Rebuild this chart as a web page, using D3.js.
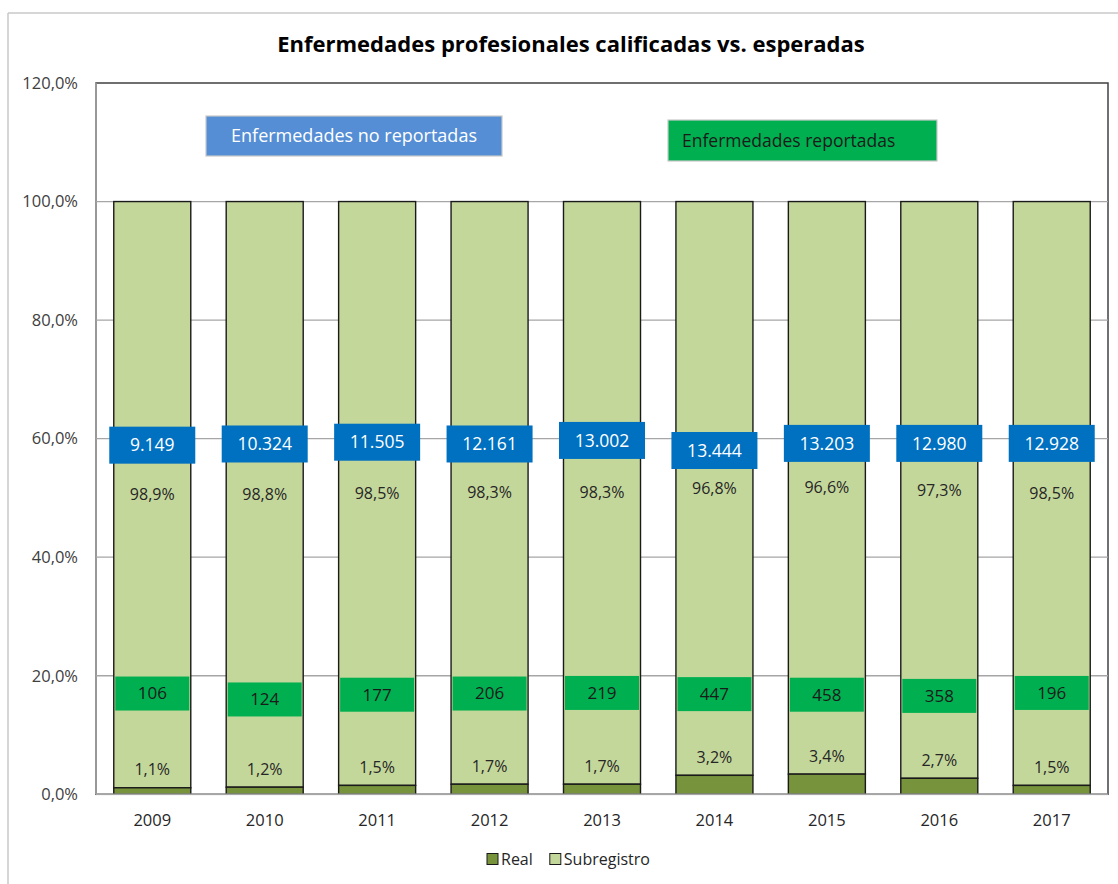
<!DOCTYPE html>
<html>
<head>
<meta charset="utf-8">
<script src="https://cdn.jsdelivr.net/npm/d3@7"></script>
<style>
  body { margin: 0; background: #fff; }
  text { font-family: "Open Sans", "Noto Sans", sans-serif; }
</style>
</head>
<body>
<div id="viz"></div>
<script>
// data
const years = ["2009", "2010", "2011", "2012", "2013", "2014", "2015", "2016", "2017"];
const realPct = [1.1, 1.2, 1.5, 1.7, 1.7, 3.2, 3.4, 2.7, 1.5];
const subPct = [98.9, 98.8, 98.5, 98.3, 98.3, 96.8, 96.6, 97.3, 98.5];
const reported = [106, 124, 177, 206, 219, 447, 458, 358, 196];
const notReported = [9149, 10324, 11505, 12161, 13002, 13444, 13203, 12980, 12928];
// where the hand-placed count boxes sit (in % of the y axis)
const blueLevel = [58.9, 59.1, 59.4, 59.1, 59.7, 58.0, 59.2, 59.2, 59.2];
const greenLevel = [17.0, 16.0, 16.8, 17.0, 17.1, 16.9, 16.8, 16.6, 17.1];
const yTicks = [0, 20, 40, 60, 80, 100, 120];

const W = 1118, H = 884;
const plotLeft = 96, plotRight = 1108, plotTop = 83, plotBottom = 794.3;
const labelSize = "16px";

const loc = d3.formatLocale({decimal: ",", thousands: ".", grouping: [3], currency: ["", ""]});
const fmtInt = loc.format(",d");
const fmtPct = d => loc.format(".1f")(d) + "%";

const svg = d3.select("#viz").append("svg")
    .attr("width", W)
    .attr("height", H);

// sheet frame
svg.append("line").attr("x1", 8).attr("x2", W).attr("y1", 13).attr("y2", 13)
    .attr("stroke", "#c8c8c8").attr("stroke-width", 1.5);
svg.append("line").attr("x1", 8).attr("x2", 8).attr("y1", 13).attr("y2", H)
    .attr("stroke", "#c8c8c8").attr("stroke-width", 1.5);

svg.append("text")
    .attr("x", 571)
    .attr("y", 52)
    .attr("text-anchor", "middle")
    .style("font-size", "22px")
    .style("font-weight", "bold")
    .attr("fill", "#000")
    .text("Enfermedades profesionales calificadas vs. esperadas");

const x = d3.scaleBand()
    .domain(years)
    .range([plotLeft, plotRight])
    .paddingInner(0.315)
    .paddingOuter(0.158);

const y = d3.scaleLinear()
    .domain([0, 120])
    .range([plotBottom, plotTop]);

// plot frame + gridlines
svg.append("rect")
    .attr("x", plotLeft).attr("y", y(120))
    .attr("width", plotRight - plotLeft).attr("height", plotBottom - y(120))
    .attr("fill", "none").attr("stroke", "#404040").attr("stroke-width", 1.5);

svg.append("g")
    .selectAll("line")
    .data(yTicks.filter(t => t > 0 && t < 120))
    .enter()
    .append("line")
    .attr("x1", plotLeft).attr("x2", plotRight)
    .attr("y1", d => y(d)).attr("y2", d => y(d))
    .attr("stroke", "#a6a6a6").attr("stroke-width", 1.3);

svg.append("line").attr("x1", plotLeft).attr("x2", plotLeft).attr("y1", y(120)).attr("y2", plotBottom)
    .attr("stroke", "#a6a6a6").attr("stroke-width", 1.5);

const yAxis = d3.axisLeft(y)
    .tickValues(yTicks)
    .tickSize(0)
    .tickPadding(18)
    .tickFormat(d => fmtPct(d));
svg.append("g")
    .attr("transform", `translate(${plotLeft}, 0)`)
    .call(yAxis)
    .call(g => g.select(".domain").remove())
    .selectAll("text")
    .style("font-family", "'Open Sans', sans-serif")
    .style("font-size", "16.5px")
    .attr("fill", "#404040");

// stacked bars
const bars = svg.append("g");
bars.selectAll("rect.sub")
    .data(years)
    .enter()
    .append("rect")
    .attr("class", "sub")
    .attr("x", d => x(d))
    .attr("y", (d, i) => y(realPct[i] + subPct[i]))
    .attr("width", x.bandwidth())
    .attr("height", (d, i) => y(realPct[i]) - y(realPct[i] + subPct[i]))
    .attr("fill", "#c4d79b")
    .attr("stroke", "#1a1a1a")
    .attr("stroke-width", 1.4);

bars.selectAll("rect.real")
    .data(years)
    .enter()
    .append("rect")
    .attr("class", "real")
    .attr("x", d => x(d))
    .attr("y", (d, i) => y(realPct[i]))
    .attr("width", x.bandwidth())
    .attr("height", (d, i) => y(0) - y(realPct[i]))
    .attr("fill", "#77933c")
    .attr("stroke", "#1a1a1a")
    .attr("stroke-width", 1.4);

// x axis
svg.append("line").attr("x1", plotLeft).attr("x2", plotRight).attr("y1", plotBottom).attr("y2", plotBottom)
    .attr("stroke", "#a6a6a6").attr("stroke-width", 1.5);

const xAxis = d3.axisBottom(x).tickSize(0).tickPadding(20);
svg.append("g")
    .attr("transform", `translate(0, ${plotBottom})`)
    .call(xAxis)
    .call(g => g.select(".domain").remove())
    .selectAll("text")
    .style("font-family", "'Open Sans', sans-serif")
    .style("font-size", "16.5px")
    .attr("fill", "#262626");

// percentage labels
svg.append("g").selectAll("text")
    .data(years)
    .enter()
    .append("text")
    .attr("x", d => x(d) + x.bandwidth() / 2)
    .attr("y", (d, i) => (y(realPct[i]) + y(realPct[i] + subPct[i])) / 2)
    .attr("dy", "0.35em")
    .attr("text-anchor", "middle")
    .style("font-size", labelSize)
    .attr("fill", "#262626")
    .text((d, i) => fmtPct(subPct[i]));

svg.append("g").selectAll("text")
    .data(years)
    .enter()
    .append("text")
    .attr("x", d => x(d) + x.bandwidth() / 2)
    .attr("y", (d, i) => y(realPct[i]) - 18)
    .attr("dy", "0.35em")
    .attr("text-anchor", "middle")
    .style("font-size", labelSize)
    .attr("fill", "#262626")
    .text((d, i) => fmtPct(realPct[i]));

// blue boxes: not reported
const blue = svg.append("g").selectAll("g")
    .data(years)
    .enter()
    .append("g")
    .attr("transform", (d, i) => `translate(${x(d) + x.bandwidth() / 2}, ${y(blueLevel[i])})`);
blue.append("rect")
    .attr("x", -43).attr("y", -18.5)
    .attr("width", 86).attr("height", 37)
    .attr("fill", "#0070c0");
blue.append("text")
    .attr("text-anchor", "middle")
    .attr("dy", "0.35em")
    .style("font-size", "17.5px")
    .attr("fill", "#fff")
    .text((d, i) => fmtInt(notReported[i]));

// green boxes: reported
const green = svg.append("g").selectAll("g")
    .data(years)
    .enter()
    .append("g")
    .attr("transform", (d, i) => `translate(${x(d) + x.bandwidth() / 2}, ${y(greenLevel[i])})`);
green.append("rect")
    .attr("x", -37).attr("y", -17)
    .attr("width", 74).attr("height", 34)
    .attr("fill", "#00b050");
green.append("text")
    .attr("text-anchor", "middle")
    .attr("dy", "0.35em")
    .style("font-size", "17px")
    .attr("fill", "#1a1a1a")
    .text((d, i) => reported[i]);

// callout boxes
svg.append("rect")
    .attr("x", 206).attr("y", 116).attr("width", 296).attr("height", 40)
    .attr("fill", "#558ed5").attr("stroke", "#c8c8c8").attr("stroke-width", 1.2);
svg.append("text")
    .attr("x", 354).attr("y", 136).attr("dy", "0.35em")
    .attr("text-anchor", "middle")
    .style("font-size", "18px")
    .attr("fill", "#fff")
    .text("Enfermedades no reportadas");

svg.append("rect")
    .attr("x", 668).attr("y", 120).attr("width", 269).attr("height", 41)
    .attr("fill", "#00b050").attr("stroke", "#c8c8c8").attr("stroke-width", 1.2);
svg.append("text")
    .attr("x", 682).attr("y", 140.5).attr("dy", "0.35em")
    .style("font-size", "17.5px")
    .attr("fill", "#1a1a1a")
    .text("Enfermedades reportadas");

// legend
const legendItems = [{name: "Real", color: "#77933c"}, {name: "Subregistro", color: "#c4d79b"}];
const legend = svg.append("g").attr("transform", "translate(487, 859)");
let lx = 0;
legendItems.forEach(item => {
    legend.append("rect")
        .attr("x", lx).attr("y", -5.5).attr("width", 11).attr("height", 11)
        .attr("fill", item.color).attr("stroke", "#1a1a1a").attr("stroke-width", 1);
    const t = legend.append("text")
        .attr("x", lx + 14).attr("dy", "0.35em")
        .style("font-size", "16px")
        .attr("fill", "#262626")
        .text(item.name);
    lx += 14 + t.node().getComputedTextLength() + 17;
});
</script>
</body>
</html>
